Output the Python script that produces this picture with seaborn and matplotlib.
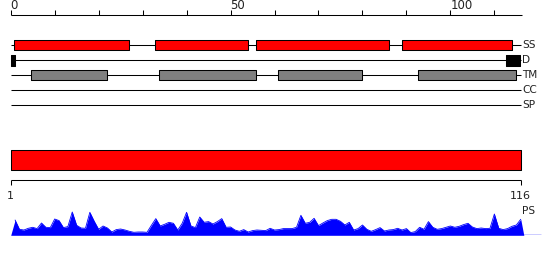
import numpy as np
import matplotlib
matplotlib.use("Agg")
import matplotlib.pyplot as plt
import seaborn as sns
import pandas as pd

# ---------------- data ----------------
seq_len = 116
tracks = ["SS", "D", "TM", "CC", "SP"]
ss_segments = [(0.8, 26.9), (32.9, 53.9), (55.9, 86.0), (89.0, 113.9)]
d_segments = [(0.0, 0.9), (112.7, 115.8)]
tm_segments = [(4.7, 21.8), (33.8, 55.9), (60.9, 79.9), (92.7, 114.9)]
cc_segments = []
sp_segments = []
top_ticks = list(range(0, 120, 10))
top_labels = ["0", "50", "100"]
top_label_pos = [0, 50, 100]
ruler_labels = ["1", "116"]
ruler_pos = [0, 116]
ps_values = [
    15.3, 6.0, 5.3, 7.0, 8.0, 6.7, 12.3, 8.0, 7.7, 16.3,
    14.7, 7.7, 8.7, 23.3, 10.0, 7.3, 7.0, 23.0, 14.0, 6.0,
    9.3, 7.3, 3.3, 5.7, 6.3, 5.3, 4.0, 3.0, 3.3, 3.3,
    3.0, 10.0, 16.7, 9.3, 11.0, 13.0, 12.0, 5.3, 12.0, 23.0,
    9.3, 7.7, 18.3, 13.0, 13.7, 11.3, 13.7, 16.7, 8.0, 8.3,
    5.3, 4.0, 5.7, 3.3, 4.7, 5.3, 5.0, 4.7, 7.0, 5.3,
    5.7, 6.7, 6.7, 6.7, 8.0, 20.0, 12.0, 13.0, 17.0, 9.7,
    12.3, 14.7, 16.0, 16.0, 14.0, 10.3, 13.0, 5.3, 6.7, 10.3,
    6.0, 4.0, 5.7, 7.7, 4.3, 5.3, 5.7, 7.0, 5.3, 6.7,
    2.7, 3.7, 8.0, 6.0, 13.7, 8.0, 6.0, 6.7, 8.0, 9.3,
    8.0, 9.0, 10.7, 12.0, 8.3, 6.7, 7.3, 6.7, 7.0, 21.3,
    7.0, 5.7, 6.7, 9.0, 10.3, 16.0,
]

# ---------------- figure ----------------
sns.set_style("white")
plt.rcParams["font.family"] = ["DejaVu Sans"]

W, H = 550, 260
fig = plt.figure(figsize=(W / 100, H / 100), dpi=100)
px_per_unit = 4.397
x0_px = 10.7
xlim = (-x0_px / px_per_unit, (W - x0_px) / px_per_unit)

ax = fig.add_axes([0, 0, 1, 1])
ax.set_xlim(*xlim)
ax.set_ylim(H, 0)
ax.axis("off")

lw = 0.75
# top scale
scale_y = 15
ax.hlines(scale_y, 0, seq_len + 0.2, color="black", lw=lw)
ax.vlines(top_ticks, scale_y - 5, scale_y, color="black", lw=lw)
for p, lab in zip(top_label_pos, top_labels):
    ax.text(p, scale_y - 3, lab, ha="left", va="bottom", fontsize=8.5, color="#222222")

# tracks
row_y = {"SS": 45.2, "D": 60.3, "TM": 75.3, "CC": 90.2, "SP": 105.3}
track_data = {
    "SS": (ss_segments, "#ff0000", 10),
    "D": (d_segments, "black", 10.7),
    "TM": (tm_segments, "#808080", 10),
    "CC": (cc_segments, "white", 10),
    "SP": (sp_segments, "white", 10),
}
for name in tracks:
    y = row_y[name]
    segs, col, h = track_data[name]
    ax.hlines(y, 0, seq_len, color="black", lw=lw, zorder=1)
    if segs:
        ax.broken_barh([(s, e - s) for s, e in segs], (y - h / 2, h),
                       facecolors=col, edgecolors="black", lw=lw, zorder=2)
    ax.text(seq_len + 0.3, y, name, ha="left", va="center", fontsize=7.6, color="#222222")

# big red bar
ax.broken_barh([(0, seq_len)], (150.3, 20), facecolors="#ff0000",
               edgecolors="black", lw=lw)

# ruler
ruler_y = 180.3
ax.hlines(ruler_y, ruler_pos[0], ruler_pos[1], color="black", lw=lw)
ax.vlines(ruler_pos, ruler_y, ruler_y + 5, color="black", lw=lw)
for p, lab in zip(ruler_pos, ruler_labels):
    ax.text(p, 196, lab, ha="center", va="center", fontsize=8, color="#222222")
ax.text(seq_len + 0.2, 211, "PS", ha="left", va="center", fontsize=7.6, color="#222222")

# PS profile
base_px = 235.3
ax_ps = fig.add_axes([0, (H - base_px) / H, 1, 30 / H])
ax_ps.set_xlim(*xlim)
ax_ps.set_ylim(0, 30)
ax_ps.axis("off")
pos = np.arange(1, len(ps_values) + 1, dtype=float)
df = pd.DataFrame({"pos": pos, "ps": ps_values})
xs = np.r_[0.0, df["pos"].values, df["pos"].values[-1] + 0.7]
ys = np.r_[0.0, df["ps"].values, 0.0]
ax_ps.fill_between(xs, 0, ys, color="#0000ff", lw=0)
sns.lineplot(data=df, x="pos", y="ps", ax=ax_ps, color="#0000ff", lw=0.6)
ax_ps.hlines(0, xs[-1] - 0.5, seq_len + 4.5, color="#0000ff", lw=1.0)
ax_ps.axis("off")

fig.savefig("out.png", dpi=100)
